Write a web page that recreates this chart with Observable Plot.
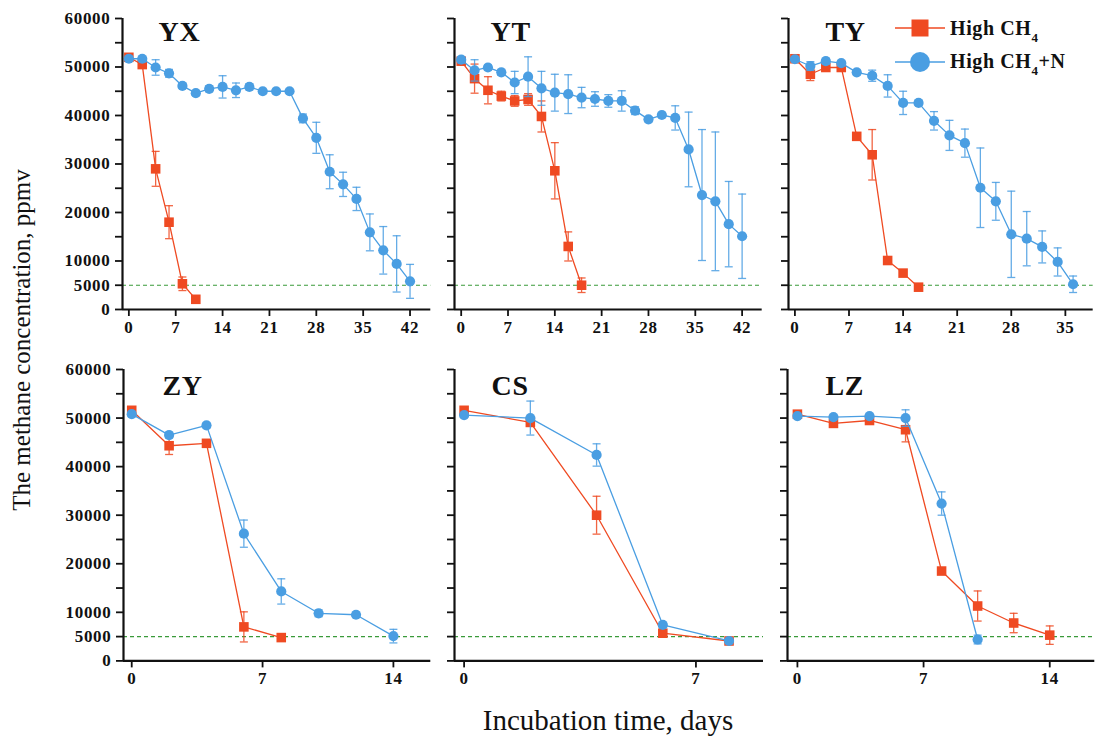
<!DOCTYPE html>
<html>
<head>
<meta charset="utf-8">
<script src="https://cdn.jsdelivr.net/npm/d3@7"></script>
<script src="https://cdn.jsdelivr.net/npm/@observablehq/plot@0.6"></script>
<style>
  html, body { margin: 0; padding: 0; background: white; }
  #chart { position: relative; width: 1095px; height: 742px; background: white; overflow: hidden; }
  .lab { position: absolute; font-family: "Liberation Serif", "Times New Roman", serif; color: #111; white-space: nowrap; }
</style>
</head>
<body>
<div id="chart"></div>
<script>
// ---------- data ----------
const yTicks = [0,5000,10000,15000,20000,25000,30000,35000,40000,45000,50000,55000,60000];
const yTickLabels = [0,5000,10000,20000,30000,40000,50000,60000];
const threshold = 5000;

const YX_redDays = [0,2,4,6,8,10];
const YX_red     = [52000,50500,29000,18000,5300,2100];
const YX_redErr  = [700,600,3600,3400,1400,0];
const YX_blueDays = [0,2,4,6,8,10,12,14,16,18,20,22,24,26,28,30,32,34,36,38,40,42];
const YX_blue     = [51700,51700,49900,48700,46100,44600,45500,45900,45200,45900,45000,45000,45000,39400,35400,28400,25800,22800,15900,12200,9400,5800];
const YX_blueErr  = [500,400,1600,800,500,400,600,2300,1500,600,400,400,400,900,3200,3500,2500,2400,3800,4900,5800,3500];

const YT_redDays = [0,2,4,6,8,10,12,14,16,18];
const YT_red     = [51200,47600,45200,44000,43000,43300,39800,28600,13000,5000];
const YT_redErr  = [600,3000,2800,1000,1100,1200,3200,5800,3000,1500];
const YT_blueDays = [0,2,4,6,8,10,12,14,16,18,20,22,24,26,28,30,32,34,36,38,40,42];
const YT_blue     = [51500,49300,49900,48900,46800,48000,45600,44700,44400,43700,43400,43000,43000,41000,39200,40100,39500,33000,23600,22300,17600,15100];
const YT_blueErr  = [600,2200,500,600,2300,4100,3500,3800,4000,2100,1500,1300,2100,800,500,500,2500,7700,13500,14300,8800,8700];

const TY_redDays = [0,2,4,6,8,10,12,14,16];
const TY_red     = [51700,48500,49900,49900,35700,31900,10100,7500,4600];
const TY_redErr  = [500,1300,500,500,500,5200,400,400,600];
const TY_blueDays = [0,2,4,6,8,10,12,14,16,18,20,22,24,26,28,30,32,34,36];
const TY_blue     = [51600,50200,51200,50800,48900,48200,46100,42600,42600,38900,35900,34300,25100,22300,15500,14600,12900,9800,5200];
const TY_blueErr  = [500,900,600,500,500,1150,2300,2400,500,1900,3100,2900,8200,3900,8900,5600,3300,2900,1700];

const ZY_redDays = [0,2,4,6,8];
const ZY_red     = [51600,44300,44800,7000,4800];
const ZY_redErr  = [500,1800,400,3100,400];
const ZY_blueDays = [0,2,4,6,8,10,12,14];
const ZY_blue     = [50800,46500,48500,26200,14300,9800,9500,5100];
const ZY_blueErr  = [500,600,500,2800,2600,700,500,1400];

const CS_redDays = [0,2,4,6,8];
const CS_red     = [51600,49100,30000,5700,4100];
const CS_redErr  = [400,500,3900,400,400];
const CS_blueDays = [0,2,4,6,8];
const CS_blue     = [50600,50000,42400,7400,4100];
const CS_blueErr  = [400,3500,2300,400,400];

const LZ_redDays = [0,2,4,6,8,10,12,14];
const LZ_red     = [50800,48900,49500,47600,18500,11300,7800,5300];
const LZ_redErr  = [500,500,400,2500,400,3100,2000,1900];
const LZ_blueDays = [0,2,4,6,8,10];
const LZ_blue     = [50400,50200,50400,50000,32400,4400];
const LZ_blueErr  = [400,400,400,1700,2400,900];

const ticksLong  = [0,7,14,21,28,35,42];
const ticksTY    = [0,7,14,21,28,35];
const ticksShort = [0,7,14];
const ticksCS    = [0,7];

// ---------- layout ----------
const RED = "#EF4A22", BLUE = "#4A9EE2", GREEN = "#3A9A3A";
const mL = 120, mR = 10, mT = 20, mB = 40;

const panels = [
  {name:"YX", col:0, fx:[121.7,430], fy:[18.3,309.3], xd:[-0.95,45.1], xt:ticksLong, tdx:36, tdy:3,
   rd:YX_redDays, r:YX_red, re:YX_redErr, bd:YX_blueDays, b:YX_blue, be:YX_blueErr},
  {name:"YT", col:1, fx:[454,761.7], fy:[18.3,309.3], xd:[-1.0,45.0], xt:ticksLong, tdx:36, tdy:3,
   rd:YT_redDays, r:YT_red, re:YT_redErr, bd:YT_blueDays, b:YT_blue, be:YT_blueErr},
  {name:"TY", col:2, fx:[788.3,1093], fy:[18.3,309.3], xd:[-0.83,38.6], xt:ticksTY, tdx:37, tdy:3,
   rd:TY_redDays, r:TY_red, re:TY_redErr, bd:TY_blueDays, b:TY_blue, be:TY_blueErr},
  {name:"ZY", col:0, fx:[122.7,430], fy:[369.3,660.7], xd:[-0.44,16.0], xt:ticksShort, tdx:39, tdy:6,
   rd:ZY_redDays, r:ZY_red, re:ZY_redErr, bd:ZY_blueDays, b:ZY_blue, be:ZY_blueErr},
  {name:"CS", col:1, fx:[454,763], fy:[369.3,660.7], xd:[-0.29,9.04], xt:ticksCS, tdx:37, tdy:6,
   rd:CS_redDays, r:CS_red, re:CS_redErr, bd:CS_blueDays, b:CS_blue, be:CS_blueErr},
  {name:"LZ", col:2, fx:[786.7,1094], fy:[369.3,660.7], xd:[-0.55,16.5], xt:ticksShort, tdx:38, tdy:6,
   rd:LZ_redDays, r:LZ_red, re:LZ_redErr, bd:LZ_blueDays, b:LZ_blue, be:LZ_blueErr}
];

const capSymbol = {
  draw(ctx, size) {
    const w = Math.sqrt(size / Math.PI);
    ctx.moveTo(-w, 0);
    ctx.lineTo(w, 0);
  }
};

function seriesMarks(days, vals, errs, color, symbol, r) {
  const data = days.map((d, i) => ({x: d, y: vals[i], e: errs[i]}));
  const withErr = data.filter(d => d.e > 0);
  return [
    Plot.ruleX(withErr, {x: "x", y1: d => d.y - d.e, y2: d => d.y + d.e, stroke: color, strokeWidth: 1.3, strokeOpacity: 0.85}),
    Plot.dot(withErr, {x: "x", y: d => d.y + d.e, symbol: capSymbol, r: 4, stroke: color, strokeWidth: 1.3, strokeOpacity: 0.85}),
    Plot.dot(withErr, {x: "x", y: d => d.y - d.e, symbol: capSymbol, r: 4, stroke: color, strokeWidth: 1.3, strokeOpacity: 0.85}),
    Plot.line(data, {x: "x", y: "y", stroke: color, strokeWidth: 1.3}),
    Plot.dot(data, {x: "x", y: "y", symbol: symbol, r: r, fill: color, stroke: "none"})
  ];
}

const chart = document.getElementById("chart");
const fontFam = "'Liberation Serif', 'Times New Roman', serif";

for (const p of panels) {
  const fw = p.fx[1] - p.fx[0], fh = p.fy[1] - p.fy[0];
  const svg = Plot.plot({
    width: mL + fw + mR,
    height: mT + fh + mB,
    marginLeft: mL, marginRight: mR, marginTop: mT, marginBottom: mB,
    style: {fontFamily: fontFam, fontSize: "17px", fontWeight: "bold", background: "transparent", overflow: "visible", color: "#111", letterSpacing: "0.7px"},
    x: {domain: p.xd},
    y: {domain: [0, 60000]},
    marks: [
      Plot.ruleY([threshold], {stroke: GREEN, strokeWidth: 1.2, strokeDasharray: "4,3"}),
      ...seriesMarks(p.rd, p.r, p.re, RED, "square", 5.4),
      ...seriesMarks(p.bd, p.b, p.be, BLUE, "circle", 5.1),
      Plot.axisY({ticks: yTicks, tickSize: 7, tickPadding: 5, strokeWidth: 1.8, label: null,
        tickFormat: p.col === 0 ? (d => yTickLabels.includes(d) ? String(d) : "") : (() => "")}),
      Plot.axisX({ticks: p.xt, tickSize: 7, tickPadding: 4, strokeWidth: 1.8, label: null, tickFormat: d => String(d)}),
      Plot.ruleX([p.xd[0]], {strokeWidth: 2.2, stroke: "#111"}),
      Plot.ruleY([0], {strokeWidth: 2.2, stroke: "#111"}),
      Plot.text([p.name], {frameAnchor: "top-left", textAnchor: "start", lineAnchor: "top", dx: p.tdx, dy: p.tdy,
        fontSize: 28, fontWeight: "bold", fill: "#111", text: d => d})
    ]
  });
  svg.style.position = "absolute";
  svg.style.maxWidth = "none";
  svg.style.left = (p.fx[0] - mL) + "px";
  svg.style.top = (p.fy[0] - mT) + "px";
  chart.appendChild(svg);
}

// ---------- legend ----------
const NS = "http://www.w3.org/2000/svg";
const leg = document.createElementNS(NS, "svg");
leg.setAttribute("width", 200); leg.setAttribute("height", 80);
leg.style.position = "absolute"; leg.style.left = "885px"; leg.style.top = "5px"; leg.style.overflow = "visible";
leg.innerHTML = `
  <line x1="10" y1="23" x2="60" y2="23" stroke="${RED}" stroke-width="1.5"/>
  <rect x="26.5" y="14.5" width="17" height="17" fill="${RED}"/>
  <line x1="10" y1="57" x2="60" y2="57" stroke="${BLUE}" stroke-width="1.5"/>
  <circle cx="35" cy="57" r="10" fill="${BLUE}"/>
  <text x="65" y="30" font-family="${fontFam}" font-weight="bold" font-size="20" fill="#111" letter-spacing="0.6">High CH<tspan font-size="13" dy="7">4</tspan></text>
  <text x="65" y="63" font-family="${fontFam}" font-weight="bold" font-size="20" fill="#111" letter-spacing="0.6">High CH<tspan font-size="13" dy="7">4</tspan><tspan dy="-7">+N</tspan></text>
`;
chart.appendChild(leg);

// ---------- shared axis titles ----------
const xl = document.createElement("div");
xl.className = "lab";
xl.textContent = "Incubation time, days";
xl.style.fontSize = "29px";
xl.style.left = "608px"; xl.style.top = "720px";
xl.style.transform = "translate(-50%, -50%)";
chart.appendChild(xl);

const yl = document.createElement("div");
yl.className = "lab";
yl.textContent = "The methane concentration, ppmv";
yl.style.fontSize = "25px";
yl.style.left = "22px"; yl.style.top = "340px";
yl.style.transform = "translate(-50%, -50%) rotate(-90deg)";
chart.appendChild(yl);
</script>
</body>
</html>
